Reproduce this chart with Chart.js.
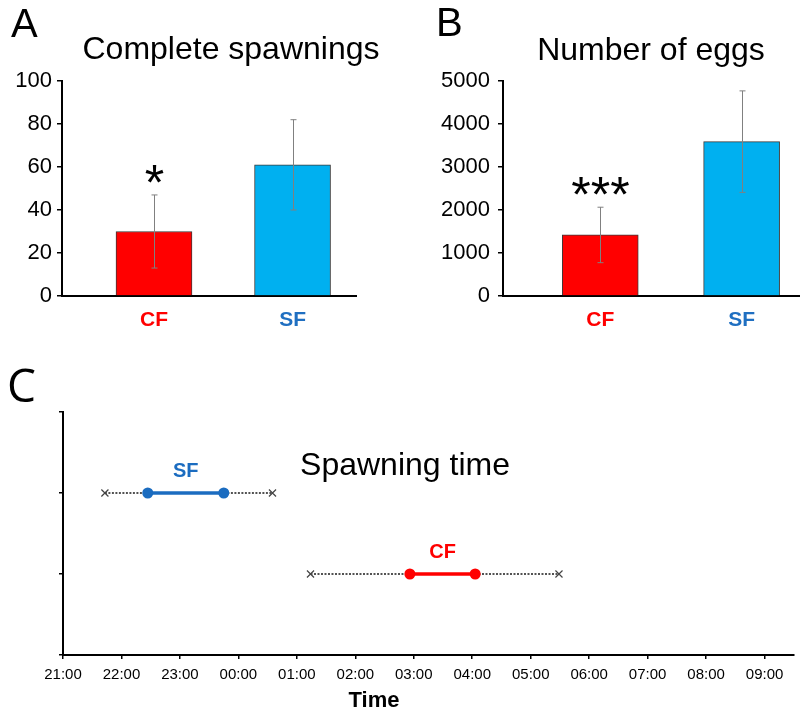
<!DOCTYPE html>
<html><head><meta charset="utf-8">
<script src="https://cdn.jsdelivr.net/npm/chart.js@4.4.1/dist/chart.umd.min.js"></script>
<style>
html,body{margin:0;padding:0;background:#fff;overflow:hidden}
#wrap{position:relative;width:800px;height:715px}
canvas{position:absolute}
.t{position:absolute;line-height:1;white-space:nowrap;color:#000;font-family:'Liberation Sans',Arial,sans-serif}
.c{transform:translateX(-50%)}
</style></head><body>
<div id="wrap">
<canvas id="cA" width="400" height="340" style="left:0;top:0"></canvas>
<canvas id="cB" width="400" height="340" style="left:400px;top:0"></canvas>
<canvas id="cC" width="789" height="375" style="left:11px;top:340px"></canvas>
<div class="t" style="left:11px;top:3px;font-size:40px">A</div>
<div class="t" style="left:436px;top:2px;font-size:40px">B</div>
<div class="t" style="left:7px;top:361px;font-size:46px;font-family:'Open Sans',sans-serif">C</div>
<div class="t c" style="left:231px;top:32px;font-size:32px">Complete spawnings</div>
<div class="t c" style="left:651px;top:33px;font-size:32px">Number of eggs</div>
<div class="t c" style="left:405px;top:448px;font-size:32px">Spawning time</div>
<div class="t c" style="left:374px;top:689px;font-size:22px;font-weight:bold">Time</div>
</div>
<script>
// ---------- data ----------
const categories = ['CF', 'SF'];
const spawnMeans = [30, 61];
const spawnErrors = [17, 21];
const spawnSignif = ['*', ''];
const spawnTicks = [0, 20, 40, 60, 80, 100];
const eggMeans = [1420, 3590];
const eggErrors = [645, 1180];
const eggSignif = ['***', ''];
const eggTicks = [0, 1000, 2000, 3000, 4000, 5000];
const timeTicks = ['21:00','22:00','23:00','00:00','01:00','02:00','03:00','04:00','05:00','06:00','07:00','08:00','09:00'];
const rangeStart = ['01:14', '21:43'];
const rangeEnd   = ['05:29', '00:35'];
const iqrStart   = ['02:56', '22:27'];
const iqrEnd     = ['04:03', '23:45'];
const rowTicks = [0, 1, 2, 3];

// ---------- styles ----------
const BAR_FILL = ['#FF0000', '#00B0F0'];
const LABEL_COLOR = ['#FF0000', '#1F6FC1'];
const LINE_COLOR = ['#FF0000', '#1B6CC0'];

function toHours(t) {
  const [h, m] = t.split(':').map(Number);
  return (((h * 60 + m) - 21 * 60 + 1440) % 1440) / 60;
}

const errorBars = {
  id: 'errorBars',
  afterDatasetsDraw(chart) {
    const {ctx, scales: {x, y}} = chart;
    chart.data.datasets.forEach(ds => {
      if (!ds.errors) return;
      ds.data.forEach((pt, i) => {
        const px = Math.round(x.getPixelForValue(pt.x)) + 0.5;
        const top = y.getPixelForValue(pt.y + ds.errors[i]);
        const bot = y.getPixelForValue(pt.y - ds.errors[i]);
        ctx.save();
        ctx.strokeStyle = '#808080'; ctx.lineWidth = 1;
        ctx.beginPath();
        ctx.moveTo(px, top); ctx.lineTo(px, bot);
        ctx.moveTo(px - 3, top); ctx.lineTo(px + 3, top);
        ctx.moveTo(px - 3, bot); ctx.lineTo(px + 3, bot);
        ctx.stroke();
        const s = ds.signif && ds.signif[i];
        if (s) {
          ctx.font = '50px "Liberation Sans", Arial, sans-serif';
          ctx.fillStyle = '#000'; ctx.textAlign = 'center'; ctx.textBaseline = 'alphabetic';
          const m = ctx.measureText(s);
          const cy = top - 21;
          const base = cy + (m.actualBoundingBoxAscent - m.actualBoundingBoxDescent) / 2;
          ctx.fillText(s, px, base);
        }
        ctx.restore();
      });
    });
  }
};

function barChart(id, means, errors, signif, ticks, o) {
  return new Chart(document.getElementById(id), {
    type: 'bar',
    data: { datasets: [{
      data: categories.map((c, i) => ({x: i + 1, y: means[i]})),
      errors: errors, signif: signif,
      backgroundColor: BAR_FILL, borderColor: '#3a3a3a', borderWidth: 1,
      barThickness: 76
    }]},
    options: {
      responsive: false, animation: false, devicePixelRatio: 1,
      layout: {padding: {left: 0, top: 81, right: o.padRight, bottom: 4}},
      plugins: {legend: {display: false}, tooltip: {enabled: false}},
      scales: {
        x: {
          type: 'linear', min: o.xmin, max: o.xmax, offset: false, bounds: 'data',
          afterBuildTicks: s => { s.ticks = categories.map((c, i) => ({value: i + 1})); },
          afterFit: s => { s.height = 40; },
          grid: {display: false, offset: false},
          border: {display: true, color: '#000', width: 2},
          ticks: {
            callback: (v, i) => categories[i],
            color: c => LABEL_COLOR[c.index],
            font: {family: "'Liberation Sans', Arial, sans-serif", size: 21, weight: 'bold'},
            padding: 4, autoSkip: false, maxRotation: 0
          }
        },
        y: {
          min: ticks[0], max: ticks[ticks.length - 1],
          afterBuildTicks: s => { s.ticks = ticks.map(v => ({value: v})); },
          afterFit: s => { s.width = o.yWidth; },
          grid: {display: true, drawOnChartArea: false, drawTicks: true, tickLength: 5, color: '#000', lineWidth: 1.5},
          border: {display: true, color: '#000', width: 2},
          ticks: {color: '#000', callback: v => String(v), font: {family: "'Liberation Sans', Arial, sans-serif", size: 22}, padding: o.tickPad}
        }
      }
    },
    plugins: [errorBars]
  });
}

barChart('cA', spawnMeans, spawnErrors, spawnSignif, spawnTicks, {padRight: 44, xmin: 0.336, xmax: 2.458, yWidth: 62, tickPad: 5});
barChart('cB', eggMeans, eggErrors, eggSignif, eggTicks, {padRight: 0, xmin: 0.312, xmax: 2.413, yWidth: 103, tickPad: 8});

// ---------- panel C ----------
const groupLabels = {
  id: 'groupLabels',
  afterDatasetsDraw(chart) {
    const ctx = chart.ctx;
    chart.data.datasets.forEach((ds, di) => {
      if (!ds.isIQR) return;
      const pts = chart.getDatasetMeta(di).data;
      const cx = (pts[0].x + pts[1].x) / 2;
      ctx.save();
      ctx.font = "bold 20px 'Liberation Sans', Arial, sans-serif";
      ctx.fillStyle = ds.borderColor; ctx.textAlign = 'center'; ctx.textBaseline = 'alphabetic';
      ctx.fillText(ds.label, cx, pts[0].y - 16);
      ctx.restore();
    });
  }
};

const cDatasets = [];
categories.forEach((g, i) => {
  cDatasets.push({
    label: g + ' range',
    data: [{x: toHours(rangeStart[i]), y: i + 1}, {x: toHours(rangeEnd[i]), y: i + 1}],
    showLine: true, borderColor: '#1a1a1a', borderWidth: 1.5, borderDash: [2, 1.5],
    pointStyle: 'crossRot', pointRadius: 5, pointBorderColor: '#444', pointBorderWidth: 1.2,
    pointBackgroundColor: '#444', order: 2
  });
});
categories.forEach((g, i) => {
  cDatasets.push({
    label: g, isIQR: true,
    data: [{x: toHours(iqrStart[i]), y: i + 1}, {x: toHours(iqrEnd[i]), y: i + 1}],
    showLine: true, borderColor: LINE_COLOR[i], borderWidth: 3.5,
    pointStyle: 'circle', pointRadius: 5.5, pointBackgroundColor: LINE_COLOR[i],
    pointBorderWidth: 0, order: 1
  });
});

new Chart(document.getElementById('cC'), {
  type: 'scatter',
  data: {datasets: cDatasets},
  options: {
    responsive: false, animation: false, devicePixelRatio: 1,
    layout: {padding: {left: 0, top: 72, right: 0, bottom: 0}},
    plugins: {legend: {display: false}, tooltip: {enabled: false}},
    scales: {
      x: {
        type: 'linear', min: 0, max: 12.5,
        afterBuildTicks: s => { s.ticks = timeTicks.map(t => ({value: toHours(t)})); },
        afterFit: s => { s.height = 60; },
        grid: {display: true, drawOnChartArea: false, drawTicks: true, tickLength: 4, color: '#000', lineWidth: 1.5},
        border: {display: true, color: '#000', width: 2},
        ticks: {
          callback: (v, i) => timeTicks[i],
          font: {family: "'Liberation Sans', Arial, sans-serif", size: 15},
          color: '#000', padding: 7, maxRotation: 0, autoSkip: false
        }
      },
      y: {
        min: rowTicks[0], max: rowTicks[rowTicks.length - 1],
        afterBuildTicks: s => { s.ticks = rowTicks.map(v => ({value: v})); },
        afterFit: s => { s.width = 52; },
        grid: {display: true, drawOnChartArea: false, drawTicks: true, tickLength: 4, color: '#000', lineWidth: 1.5},
        border: {display: true, color: '#000', width: 2},
        ticks: {display: false}
      }
    }
  },
  plugins: [groupLabels]
});
</script>
</body></html>
